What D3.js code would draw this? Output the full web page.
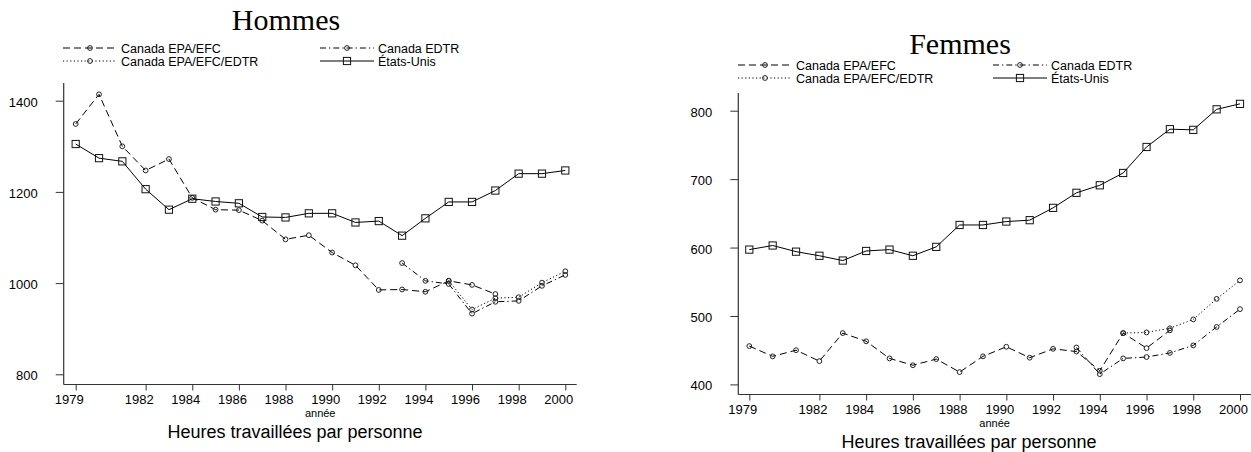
<!DOCTYPE html>
<html>
<head>
<meta charset="utf-8">
<script src="https://cdn.jsdelivr.net/npm/d3@7"></script>
<style>
  body { margin: 0; background: #fff; }
  svg { display: block; }
  text { font-family: "Liberation Sans", Arial, sans-serif; fill: #000; }
</style>
</head>
<body>
<svg id="chart" width="1251" height="452"></svg>
<script>
// Annual hours worked per person, Canada vs United States, 1979-2000
const years = [1979,1980,1981,1982,1983,1984,1985,1986,1987,1988,1989,1990,
               1991,1992,1993,1994,1995,1996,1997,1998,1999,2000];
const yearsEpaEfc = [1979,1980,1981,1982,1983,1984,1985,1986,1987,1988,
                     1989,1990,1991,1992,1993,1994,1995,1996,1997];
const yearsEdtr = [1993,1994,1995,1996,1997,1998,1999,2000];
const yearsLinked = [1995,1996,1997,1998,1999,2000];
const xTickYears = [1979,1982,1984,1986,1988,1990,1992,1994,1996,1998,2000];

// Men
const menEpaEfc = [1349,1414,1300,1247,1272,1187,1161,1160,1137,1096,
                   1105,1067,1039,985,986,981,1005,996,976];
const menEdtr = [1044,1005,998,933,959,961,994,1018];
const menLinked = [1005,942,967,969,1001,1026];
const menUS = [1305,1274,1267,1206,1161,1185,1179,1175,1145,1144,1153,
               1153,1133,1136,1104,1142,1178,1178,1203,1240,1240,1247];
const menYTicks = [800,1000,1200,1400];

// Women
const womenEpaEfc = [456,441,450,434,475,463,438,428,437,418,
                     441,455,439,452,448,420,475,453,479];
const womenEdtr = [454,415,438,440,446,457,484,510];
const womenLinked = [475,476,482,495,525,552];
const womenUS = [597,603,594,588,581,595,597,588,601,633,633,
                 638,640,658,680,691,709,747,773,772,802,810];
const womenYTicks = [400,500,600,700,800];

const seriesNames = ["Canada EPA/EFC", "Canada EDTR", "Canada EPA/EFC/EDTR", "États-Unis"];
const yearLabel = "année";
const captionText = "Heures travaillées par personne";

const styles = {
  "Canada EPA/EFC":      { dash: "7,4",         marker: "circle" },
  "Canada EDTR":         { dash: "6,3,1.3,3",   marker: "circle" },
  "Canada EPA/EFC/EDTR": { dash: "1.2,2.4",     marker: "circle" },
  "États-Unis":          { dash: null,          marker: "square" }
};

const panels = [
  {
    title: "Hommes",
    series: [
      { name: "Canada EPA/EFC", x: yearsEpaEfc, y: menEpaEfc },
      { name: "Canada EDTR", x: yearsEdtr, y: menEdtr },
      { name: "Canada EPA/EFC/EDTR", x: yearsLinked, y: menLinked },
      { name: "États-Unis", x: years, y: menUS }
    ],
    yTicks: menYTicks,
    yTickRange: [800, 1400], yTickPx: [374.3, 100.7],
    axisX: 63.7, axisRight: 576.7, axisTop: 83, axisBottom: 384.5,
    x1979: 75.7, x2000: 565.3,
    titleX: 286, titleY: 30,
    legendX: [63, 320], legendY: [48, 61],
    captionX: 295
  },
  {
    title: "Femmes",
    series: [
      { name: "Canada EPA/EFC", x: yearsEpaEfc, y: womenEpaEfc },
      { name: "Canada EDTR", x: yearsEdtr, y: womenEdtr },
      { name: "Canada EPA/EFC/EDTR", x: yearsLinked, y: womenLinked },
      { name: "États-Unis", x: years, y: womenUS }
    ],
    yTicks: womenYTicks,
    yTickRange: [400, 800], yTickPx: [384.4, 110.7],
    axisX: 738.3, axisRight: 1251, axisTop: 93, axisBottom: 394.5,
    x1979: 749.3, x2000: 1240,
    titleX: 960, titleY: 54,
    legendX: [738, 993], legendY: [65, 78],
    captionX: 969
  }
];

const svg = d3.select("#chart");
svg.append("rect").attr("width", 1251).attr("height", 452).attr("fill", "#fff");

const axisColor = "#333";

function drawMarker(g, type, cx, cy) {
  if (type === "square") {
    g.append("rect")
      .attr("x", cx - 3.6).attr("y", cy - 3.6)
      .attr("width", 7.2).attr("height", 7.2)
      .attr("fill", "none").attr("stroke", "#111").attr("stroke-width", 1);
  } else {
    g.append("circle")
      .attr("cx", cx).attr("cy", cy).attr("r", 2.4)
      .attr("fill", "none").attr("stroke", "#222").attr("stroke-width", 1);
  }
}

panels.forEach(p => {
  const g = svg.append("g");

  const x = d3.scaleLinear().domain([1979, 2000]).range([p.x1979, p.x2000]);
  const y = d3.scaleLinear().domain(p.yTickRange).range(p.yTickPx);

  // title
  g.append("text")
    .attr("x", p.titleX).attr("y", p.titleY)
    .attr("text-anchor", "middle")
    .style("font-family", "'Liberation Serif', 'Times New Roman', serif")
    .style("font-size", "30px")
    .text(p.title);

  // legend: two columns, two rows
  const legendOrder = [
    { name: seriesNames[0], col: 0, row: 0 },
    { name: seriesNames[1], col: 1, row: 0 },
    { name: seriesNames[2], col: 0, row: 1 },
    { name: seriesNames[3], col: 1, row: 1 }
  ];
  legendOrder.forEach(item => {
    const st = styles[item.name];
    const lx = p.legendX[item.col];
    const ly = p.legendY[item.row];
    const lg = g.append("g");
    lg.append("line")
      .attr("x1", lx).attr("x2", lx + 54)
      .attr("y1", ly).attr("y2", ly)
      .attr("stroke", "#000").attr("stroke-width", 1)
      .attr("stroke-dasharray", st.dash);
    drawMarker(lg, st.marker, lx + 27, ly);
    lg.append("text")
      .attr("x", lx + 58).attr("y", ly)
      .attr("dy", "0.36em")
      .style("font-size", "12.5px")
      .text(item.name);
  });

  // y axis
  const yAxis = d3.axisLeft(y).tickValues(p.yTicks).tickSize(8).tickSizeOuter(0)
    .tickFormat(d3.format("d"));
  const ya = g.append("g").attr("transform", `translate(${p.axisX},0)`).call(yAxis);
  ya.select(".domain").remove();
  ya.selectAll(".tick line").attr("stroke", axisColor);
  ya.selectAll(".tick text")
    .attr("x", -26).attr("dy", "0.42em")
    .style("font-family", "'Liberation Sans', Arial, sans-serif")
    .style("font-size", "13px").attr("fill", "#000");
  g.append("line")
    .attr("x1", p.axisX).attr("x2", p.axisX)
    .attr("y1", p.axisTop).attr("y2", p.axisBottom)
    .attr("stroke", axisColor).attr("stroke-width", 1.2);

  // x axis
  const xAxis = d3.axisBottom(x).tickValues(xTickYears).tickSize(6).tickSizeOuter(0)
    .tickFormat(d3.format("d"));
  const xa = g.append("g").attr("transform", `translate(0,${p.axisBottom})`).call(xAxis);
  xa.select(".domain").remove();
  xa.selectAll(".tick line").attr("stroke", axisColor);
  xa.selectAll(".tick text")
    .attr("dx", -7).attr("y", 10).attr("dy", "0.71em")
    .style("font-family", "'Liberation Sans', Arial, sans-serif")
    .style("font-size", "13px").attr("fill", "#000");
  g.append("line")
    .attr("x1", p.axisX).attr("x2", p.axisRight)
    .attr("y1", p.axisBottom).attr("y2", p.axisBottom)
    .attr("stroke", axisColor).attr("stroke-width", 1.2);

  // axis title and caption
  g.append("text")
    .attr("x", (p.axisX + p.axisRight) / 2).attr("y", p.axisBottom + 32)
    .attr("text-anchor", "middle")
    .style("font-size", "11px")
    .text(yearLabel);
  g.append("text")
    .attr("x", p.captionX).attr("y", p.axisBottom + 53)
    .attr("text-anchor", "middle")
    .style("font-size", "18px")
    .text(captionText);

  // series lines and markers
  const line = d3.line().x(d => x(d[0])).y(d => y(d[1]));
  p.series.forEach(s => {
    const st = styles[s.name];
    const pts = s.x.map((yr, i) => [yr, s.y[i]]);
    g.append("path")
      .datum(pts)
      .attr("d", line)
      .attr("fill", "none")
      .attr("stroke", "#000")
      .attr("stroke-width", 1)
      .attr("stroke-dasharray", st.dash);
    const mg = g.append("g");
    pts.forEach(d => drawMarker(mg, st.marker, x(d[0]), y(d[1])));
  });
});
</script>
</body>
</html>
